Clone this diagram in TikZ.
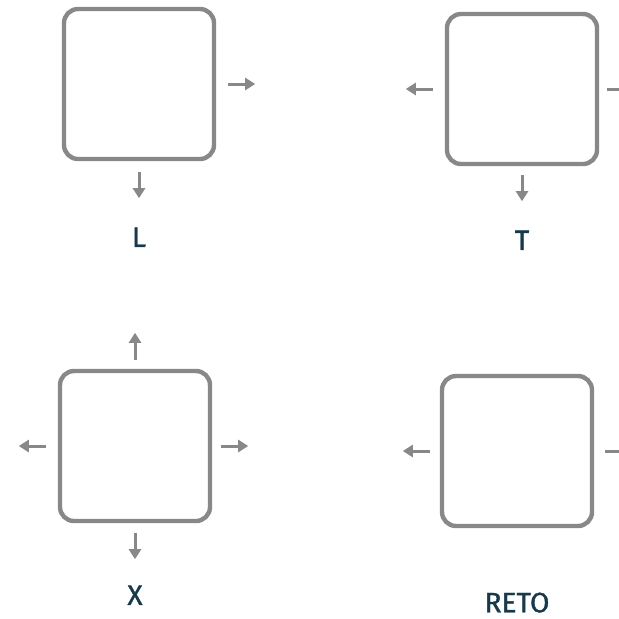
\documentclass[tikz,border=0pt]{standalone}
\usepackage{fontspec}
\setmainfont{Fira Sans}
\usetikzlibrary{positioning,arrows.meta}
\definecolor{JointGray}{RGB}{136,136,138}
\definecolor{JointInk}{RGB}{22,58,74}
\tikzset{
  joint box/.style={
    draw=JointGray,
    line width=2.2pt,
    rounded corners=7pt,
    minimum size=75pt,
    inner sep=0pt
  },
  joint stub/.style={-{Triangle[length=5pt,width=6pt]}, line width=1.5pt, JointGray},
  joint tag/.style={font=\fontsize{14}{16}\selectfont\addfontfeatures{FakeBold=1.2},
    text=JointInk, inner sep=0pt}
}

\begin{document}
\begin{tikzpicture}[x=0.5pt,y=-0.5pt]
\useasboundingbox (0,0) rectangle (619,618);
% four junction boxes
\node[joint box] (L) at (139,84) {};
\node[joint box] (T) at (522,89) {};
\node[joint box] (X) at (135,446) {};
\node[joint box] (R) at (517,451) {};
% names
\node[joint tag, below=33pt of L] (tL) {L};
\node[joint tag, below=32pt of T] (tT) {T};
\node[joint tag, below=31pt of X] (tX) {X};
\node[joint tag, below=32pt of R] (tR) {RETO};
% outlets
\draw[joint stub] ([xshift=6pt]L.east) -- ++(27,0);
\draw[joint stub] ([yshift=-5.5pt]L.south) -- ++(0,26);
\draw[joint stub] ([xshift=-6pt]T.west) -- ++(-27,0);
\draw[joint stub] ([xshift=4pt]T.east) -- ++(27,0);
\draw[joint stub] ([yshift=-4.5pt]T.south) -- ++(0,26);
\draw[joint stub] ([yshift=4.5pt]X.north) -- ++(0,-27);
\draw[joint stub] ([xshift=-6pt]X.west) -- ++(-27,0);
\draw[joint stub] ([xshift=4.5pt]X.east) -- ++(27,0);
\draw[joint stub] ([yshift=-5pt]X.south) -- ++(0,26);
\draw[joint stub] ([xshift=-5pt]R.west) -- ++(-27,0);
\draw[joint stub] ([xshift=5.5pt]R.east) -- ++(27,0);
\end{tikzpicture}
\end{document}
